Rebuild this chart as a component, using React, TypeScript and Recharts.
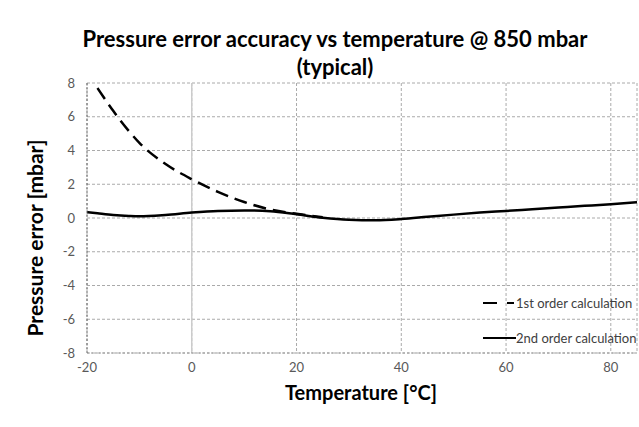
import React from 'react';
import { LineChart, Line, XAxis, YAxis, CartesianGrid, ReferenceLine } from 'recharts';

const temps = [-20, -18, -15, -12, -10, -5, 0, 5, 10, 15, 20, 25, 30, 35, 40, 45, 50, 55, 60, 65, 70, 75, 80, 85];
const firstOrder: (number | null)[] = [null, 7.7, 6.35, 5.15, 4.45, 3.2, 2.3, 1.55, 0.95, 0.5, 0.25, 0.05, null, null, null, null, null, null, null, null, null, null, null, null];
const secondOrder = [0.35, 0.28, 0.18, 0.12, 0.1, 0.18, 0.32, 0.42, 0.45, 0.4, 0.22, 0.02, -0.1, -0.13, -0.06, 0.07, 0.2, 0.32, 0.42, 0.52, 0.62, 0.72, 0.82, 0.93];
const xTicks = [-20, 0, 20, 40, 60, 80];
const yTicks = [-8, -6, -4, -2, 0, 2, 4, 6, 8];
const titleLines = ['Pressure error accuracy vs temperature @ 850 mbar', '(typical)'];
const seriesNames = ['1st order calculation', '2nd order calculation'];

const data = temps.map((t, i) => ({ t, first: firstOrder[i], second: secondOrder[i] }));

const FONT = 'Lato, "Open Sans", sans-serif';

export default function App() {
  return (
    <div style={{ position: 'absolute', left: 0, top: 0, width: 639, height: 427, background: '#fff', fontFamily: FONT }}>
      <div style={{ position: 'absolute', left: 0, top: 25, width: 670, textAlign: 'center', fontWeight: 700, fontSize: 22, lineHeight: '28px', color: '#000' }}>
        {titleLines[0]}
        <br />
        {titleLines[1]}
      </div>
      <div style={{ position: 'absolute', left: 0, top: 0 }}>
        <LineChart width={639} height={427} data={data} margin={{ top: 83, right: 2, bottom: 44, left: 0 }}>
          <CartesianGrid stroke="#aaa" strokeDasharray="3 2" />
          <ReferenceLine x={0} stroke="#ccc" strokeWidth={1.5} />
          <XAxis
            dataKey="t"
            type="number"
            domain={[-20, 85]}
            ticks={xTicks}
            height={30}
            allowDataOverflow
            tickLine={false}
            axisLine={{ stroke: '#999', strokeDasharray: '2 2' }}
            tickSize={0}
            tickMargin={10}
            tick={{ fontSize: 13, fill: '#595959', fontFamily: FONT }}
            label={{
              content: () => (
                <text x={361} y={400} textAnchor="middle" fontSize={20} fontWeight={700} fill="#000" fontFamily={FONT}>
                  Temperature [°C]
                </text>
              ),
            }}
          />
          <YAxis
            type="number"
            domain={[-8, 8]}
            ticks={yTicks}
            width={87}
            tickLine={false}
            axisLine={{ stroke: '#666', strokeDasharray: '2 2' }}
            tickSize={0}
            tickMargin={12}
            tick={{ fontSize: 13, fill: '#595959', fontFamily: FONT }}
            label={{
              content: () => (
                <text x={43} y={238} transform="rotate(-90 43 238)" textAnchor="middle" fontSize={21} fontWeight={700} fill="#000" fontFamily={FONT}>
                  Pressure error [mbar]
                </text>
              ),
            }}
          />
          <Line type="monotone" dataKey="first" stroke="#000" strokeWidth={2.5} strokeDasharray="13 7" dot={false} isAnimationActive={false} connectNulls={false} />
          <Line type="monotone" dataKey="second" stroke="#000" strokeWidth={2.5} dot={false} isAnimationActive={false} />
        </LineChart>
      </div>
      <svg width={160} height={60} style={{ position: 'absolute', left: 483, top: 295, overflow: 'visible' }}>
        <line x1={0} y1={8} x2={14} y2={8} stroke="#000" strokeWidth={2} />
        <line x1={24} y1={8} x2={31} y2={8} stroke="#000" strokeWidth={2} />
        <text x={33} y={12.5} fontSize={13} fill="#404040" fontFamily={FONT}>{seriesNames[0]}</text>
        <line x1={0} y1={43} x2={33} y2={43} stroke="#000" strokeWidth={2} />
        <text x={33} y={47.5} fontSize={13} fill="#404040" fontFamily={FONT}>{seriesNames[1]}</text>
      </svg>
    </div>
  );
}
